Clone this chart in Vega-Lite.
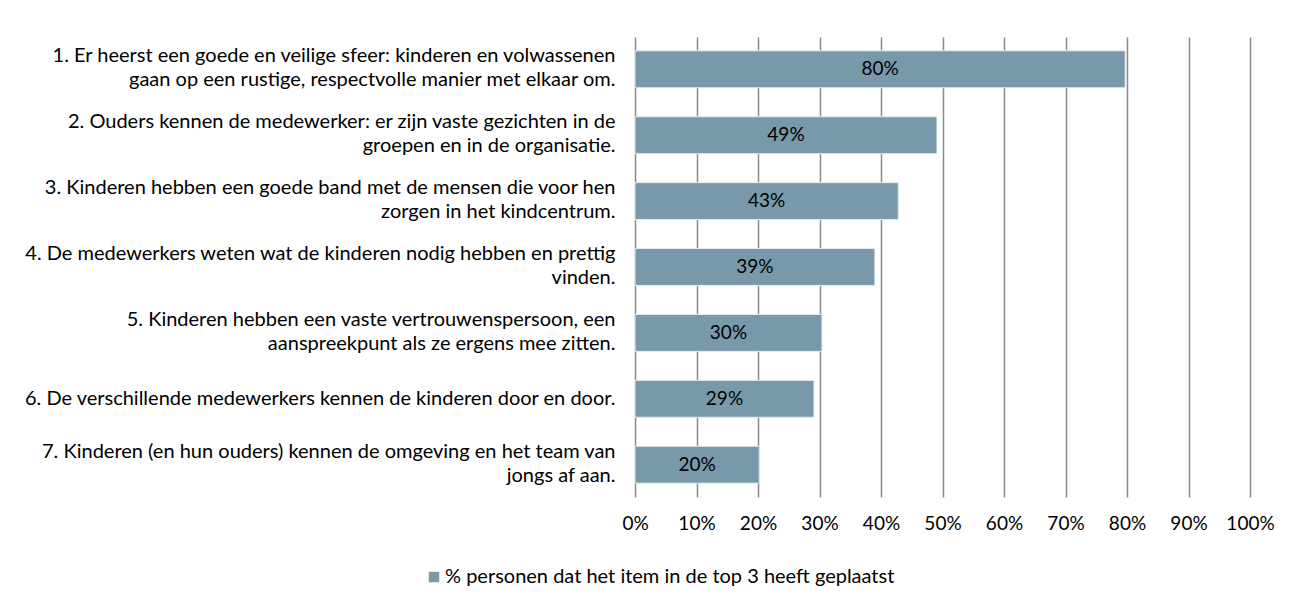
{
  "$schema": "https://vega.github.io/schema/vega-lite/v6.json",
  "autosize": {"type": "none"},
  "width": 615,
  "height": 460,
  "padding": {"left": 635, "top": 37, "right": 56, "bottom": 111},
  "background": "white",
  "config": {
    "view": {"stroke": null},
    "font": "Lato",
    "axis": {"labelFont": "Lato", "labelColor": "#000000", "labelFontSize": 20}
  },
  "data": {
    "values": [
      {"item": "1. Er heerst een goede en veilige sfeer: kinderen en volwassenen|gaan op een rustige, respectvolle manier met elkaar om.", "pct": 0.797, "reeks": "% personen dat het item in de top 3 heeft geplaatst"},
      {"item": "2. Ouders kennen de medewerker: er zijn vaste gezichten in de|groepen en in de organisatie.", "pct": 0.491, "reeks": "% personen dat het item in de top 3 heeft geplaatst"},
      {"item": "3. Kinderen hebben een goede band met de mensen die voor hen|zorgen in het kindcentrum.", "pct": 0.428, "reeks": "% personen dat het item in de top 3 heeft geplaatst"},
      {"item": "4. De medewerkers weten wat de kinderen nodig hebben en prettig|vinden.", "pct": 0.39, "reeks": "% personen dat het item in de top 3 heeft geplaatst"},
      {"item": "5. Kinderen hebben een vaste vertrouwenspersoon, een|aanspreekpunt als ze ergens mee zitten.", "pct": 0.304, "reeks": "% personen dat het item in de top 3 heeft geplaatst"},
      {"item": "6. De verschillende medewerkers kennen de kinderen door en door.", "pct": 0.291, "reeks": "% personen dat het item in de top 3 heeft geplaatst"},
      {"item": "7. Kinderen (en hun ouders) kennen de omgeving en het team van|jongs af aan.", "pct": 0.202, "reeks": "% personen dat het item in de top 3 heeft geplaatst"}
    ]
  },
  "encoding": {
    "y": {
      "field": "item",
      "type": "nominal",
      "sort": null,
      "title": null,
      "scale": {"paddingInner": 0.44, "paddingOuter": 0.21},
      "axis": {
        "labelExpr": "split(datum.label, '|')",
        "labelLimit": 0,
        "labelPadding": 20,
        "labelLineHeight": 24,
        "labelOffset": {"condition": {"test": "indexof(datum.value, '|') >= 0", "value": -13}, "value": 0},
        "ticks": false,
        "domain": false,
        "grid": false
      }
    }
  },
  "layer": [
    {
      "mark": {"type": "bar", "stroke": "#E4EBEF", "strokeWidth": 1},
      "encoding": {
        "x": {
          "field": "pct",
          "type": "quantitative",
          "title": null,
          "scale": {"domain": [0, 1], "nice": false},
          "axis": {
            "format": ".0%",
            "values": [0, 0.1, 0.2, 0.3, 0.4, 0.5, 0.6, 0.7, 0.8, 0.9, 1],
            "labelOverlap": false,
            "labelFlush": false,
            "labelFontSize": 19,
            "grid": true,
            "gridColor": "#8A8A8A",
            "gridWidth": 1.5,
            "gridOpacity": 1,
            "ticks": false,
            "domain": false,
            "labelPadding": 17
          }
        },
        "color": {
          "field": "reeks",
          "type": "nominal",
          "scale": {"range": ["#7799AA"]},
          "legend": {
            "title": null,
            "orient": "none",
            "legendX": -211,
            "legendY": 530,
            "symbolType": "square",
            "symbolSize": 110,
            "symbolStrokeWidth": 0,
            "labelFontSize": 20,
            "labelFont": "Lato",
            "labelColor": "#000000",
            "labelLimit": 0,
            "labelOffset": 1
          }
        }
      }
    },
    {
      "transform": [{"calculate": "datum.pct / 2", "as": "mid"}],
      "mark": {"type": "text", "fontSize": 19, "color": "#000000", "font": "Lato", "align": "center", "baseline": "middle"},
      "encoding": {
        "x": {"field": "mid", "type": "quantitative"},
        "text": {"field": "pct", "type": "quantitative", "format": ".0%"}
      }
    }
  ]
}
